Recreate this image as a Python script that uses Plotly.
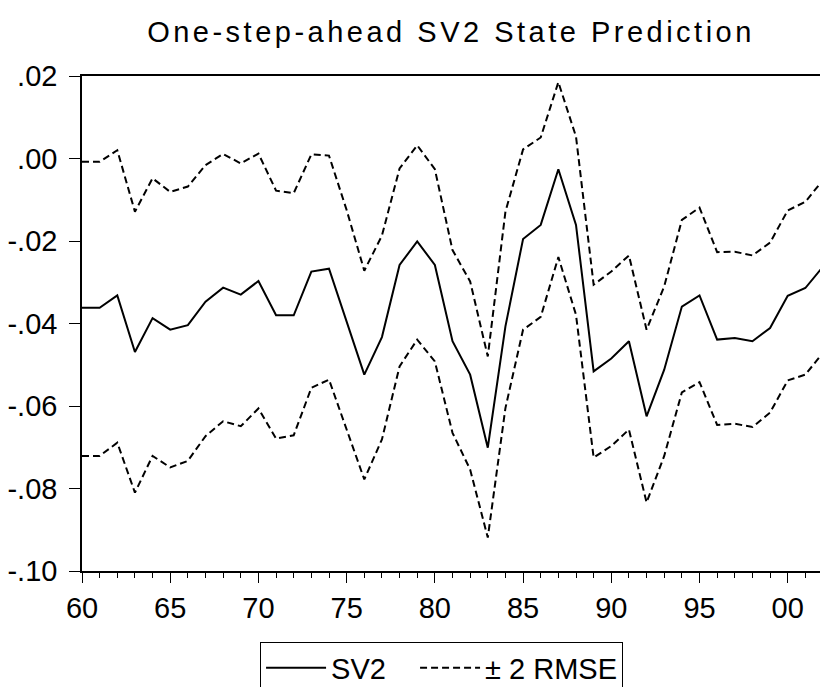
import plotly.graph_objects as go

years = list(range(1960, 2003))
sv2 = [-0.0362, -0.0362, -0.0332, -0.0469, -0.0387, -0.0415, -0.0404, -0.0347, -0.0313, -0.0330,
       -0.0297, -0.0380, -0.0380, -0.0274, -0.0267, -0.0393, -0.0524, -0.0433, -0.0258, -0.0201,
       -0.0258, -0.0443, -0.0524, -0.0701, -0.0407, -0.0195, -0.0161, -0.0026, -0.0161, -0.0516,
       -0.0485, -0.0443, -0.0625, -0.0512, -0.0359, -0.0332, -0.0439, -0.0435, -0.0443, -0.0411,
       -0.0333, -0.0314, -0.0262]
upper = [-0.0008, -0.0008, 0.0020, -0.0129, -0.0048, -0.0081, -0.0068, -0.0016, 0.0011, -0.0012,
         0.0012, -0.0078, -0.0084, 0.0010, 0.0007, -0.0125, -0.0272, -0.0187, -0.0024, 0.0032,
         -0.0026, -0.0222, -0.0298, -0.0480, -0.0129, 0.0022, 0.0051, 0.0185, 0.0053, -0.0306,
         -0.0274, -0.0235, -0.0415, -0.0310, -0.0149, -0.0119, -0.0227, -0.0226, -0.0235, -0.0204,
         -0.0126, -0.0105, -0.0052]
lower = [-0.0721, -0.0721, -0.0689, -0.0810, -0.0721, -0.0749, -0.0733, -0.0673, -0.0637, -0.0649,
         -0.0606, -0.0679, -0.0671, -0.0556, -0.0536, -0.0657, -0.0778, -0.0681, -0.0504, -0.0439,
         -0.0492, -0.0665, -0.0754, -0.0919, -0.0605, -0.0415, -0.0384, -0.0239, -0.0379, -0.0725,
         -0.0697, -0.0657, -0.0834, -0.0721, -0.0567, -0.0542, -0.0646, -0.0643, -0.0651, -0.0616,
         -0.0538, -0.0524, -0.0471]

x_tickvals = [1960, 1965, 1970, 1975, 1980, 1985, 1990, 1995, 2000]
x_ticktext = ["60", "65", "70", "75", "80", "85", "90", "95", "00"]
y_tickvals = [-0.10, -0.08, -0.06, -0.04, -0.02, 0.00, 0.02]
y_ticktext = ["-.10", "-.08", "-.06", "-.04", "-.02", ".00", ".02"]

FONT = "Liberation Sans, Arial, sans-serif"
W, H = 820, 679
NBSP = "\u00a0"

fig = go.Figure()
fig.add_trace(go.Scatter(x=years, y=sv2, mode="lines", name="SV2" + NBSP * 3,
                         line=dict(color="black", width=2)))
fig.add_trace(go.Scatter(x=years, y=upper, mode="lines", name="± 2 RMSE",
                         line=dict(color="black", width=2, dash="7px,4px")))
fig.add_trace(go.Scatter(x=years, y=lower, mode="lines", name="± 2 RMSE",
                         line=dict(color="black", width=2, dash="7px,4px"),
                         showlegend=False))

fig.update_layout(
    width=W, height=H,
    margin=dict(l=74, r=5, t=68, b=116, autoexpand=False),
    paper_bgcolor="white", plot_bgcolor="white",
    font=dict(family=FONT, size=29, color="black"),
    title=dict(text='<span style="letter-spacing:3.5px">One-step-ahead SV2 State Prediction</span>',
               x=0.498, xref="paper", xanchor="center",
               y=1 - 24 / H, yref="container", yanchor="middle",
               font=dict(family=FONT, size=29, color="black")),
    showlegend=True,
    legend=dict(orientation="h", x=0.2403, xanchor="left",
                y=1 - 633.5 / H, yref="container", yanchor="top",
                bordercolor="black", borderwidth=1, bgcolor="white",
                font=dict(family=FONT, size=29, color="black"),
                itemwidth=60, tracegroupgap=0),
)
fig.update_xaxes(range=[1960, 2002], tickvals=x_tickvals, ticktext=x_ticktext,
                 showline=True, mirror=True, linecolor="black", linewidth=1.5,
                 ticks="outside", ticklen=10, tickcolor="black", tickwidth=1,
                 showgrid=False, zeroline=False, automargin=False,
                 minor=dict(dtick=1, tick0=1960, ticks="outside", ticklen=5,
                            tickcolor="black", showgrid=False),
                 tickfont=dict(family=FONT, size=29, color="black"))
fig.update_yaxes(range=[-0.10, 0.02], tickvals=y_tickvals, ticktext=y_ticktext,
                 showline=True, mirror=True, linecolor="black", linewidth=1.5,
                 ticks="outside", ticklen=11, tickcolor="black", tickwidth=1,
                 showgrid=False, zeroline=False, ticklabelstandoff=6, automargin=False,
                 tickfont=dict(family=FONT, size=29, color="black"))

fig.write_html("out.html")
